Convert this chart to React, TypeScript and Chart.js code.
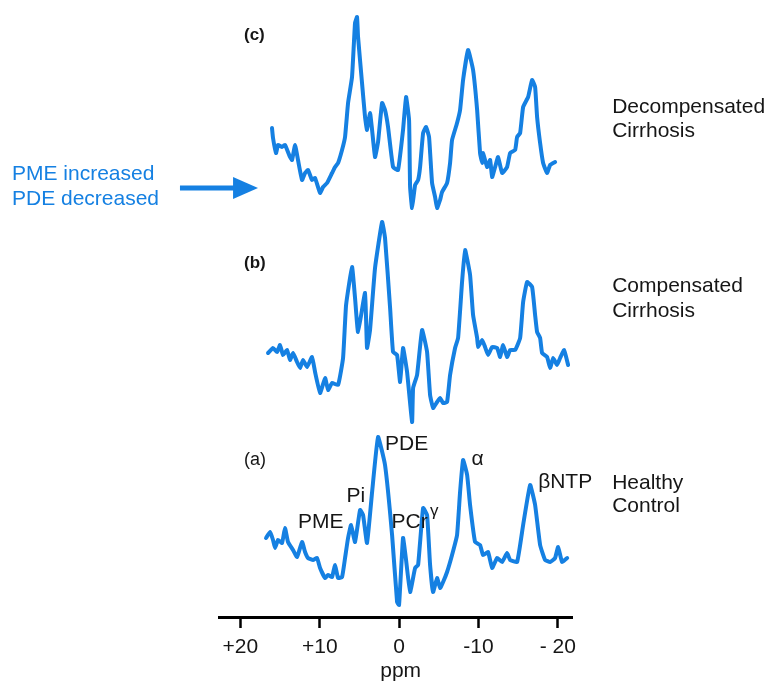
import React, { useEffect, useRef } from 'react';
import { Chart, registerables } from 'chart.js';

Chart.register(...registerables);

// x axis (chemical shift, ppm) — reversed, NMR style
const tickValues = [20, 10, 0, -10, -20];
const tickLabels = ['+20', '+10', '0', '-10', '- 20'];

// vertical stacking offsets of the spectra (a.u.)
const traceOffsets = [0, 20, 40];
const traceNames = ['Healthy Control', 'Compensated Cirrhosis', 'Decompensated Cirrhosis'];

// (a) Healthy control
const healthyPpm = [16.77, 16.27, 15.89, 15.64, 15.26, 14.75, 14.38, 14.0, 13.37, 12.86, 12.23, 11.85, 11.48, 10.84, 10.34, 9.96, 9.33, 8.95, 8.45, 8.07, 7.69, 7.19, 6.81, 6.43, 6.05, 5.55, 4.92, 4.54, 4.04, 3.4, 2.65, 1.77, 0.88, 0.25, 0.0, -0.5, -0.88, -1.39, -2.02, -2.4, -3.03, -3.53, -3.91, -4.29, -4.79, -5.17, -5.55, -6.05, -6.68, -7.31, -7.69, -8.07, -8.58, -8.95, -9.58, -10.21, -10.59, -11.22, -11.73, -12.36, -12.99, -13.62, -14.0, -14.88, -15.64, -16.52, -17.15, -17.78, -18.41, -19.04, -19.67, -20.05, -20.55, -21.19];
const healthyIntensity = [7.9, 8.5, 7.7, 6.9, 7.7, 7.4, 8.9, 7.5, 6.7, 6.0, 7.5, 6.5, 5.9, 5.7, 5.9, 4.9, 3.9, 4.2, 4.0, 5.2, 3.9, 4.0, 5.9, 7.9, 9.2, 7.5, 10.7, 10.2, 7.4, 12.5, 18.0, 15.2, 8.2, 1.5, 1.2, 7.9, 5.7, 2.5, 4.9, 5.2, 10.9, 10.2, 5.2, 2.5, 3.9, 2.9, 3.5, 4.5, 6.2, 8.2, 12.5, 15.7, 14.2, 11.2, 7.5, 7.2, 6.2, 6.5, 4.9, 5.9, 5.5, 6.4, 5.7, 5.5, 9.2, 13.2, 11.2, 7.2, 5.7, 5.5, 5.9, 7.0, 5.5, 5.9];

// (b) Compensated cirrhosis
const compensatedPpm = [16.52, 15.89, 15.38, 15.01, 14.63, 14.12, 13.75, 13.37, 12.86, 12.48, 12.11, 11.6, 10.97, 10.59, 9.96, 9.33, 8.95, 8.45, 7.69, 7.06, 6.68, 5.93, 5.55, 5.17, 4.29, 4.04, 3.66, 3.03, 2.14, 1.77, 1.13, 0.76, 0.25, -0.13, -0.5, -1.01, -1.64, -1.77, -2.27, -2.9, -3.53, -3.91, -4.29, -4.79, -5.17, -5.55, -6.05, -6.43, -7.06, -7.44, -7.94, -8.32, -8.95, -9.33, -9.84, -9.96, -10.47, -10.84, -11.22, -11.73, -12.36, -12.74, -13.11, -13.62, -14.0, -14.63, -15.26, -15.64, -16.14, -16.77, -17.15, -17.4, -17.78, -18.03, -18.66, -19.04, -19.42, -19.92, -20.3, -20.81, -21.31];
const compensatedIntensity = [6.4, 6.9, 6.5, 7.2, 6.2, 6.7, 5.7, 6.4, 5.5, 4.9, 5.7, 5.0, 6.0, 4.5, 2.4, 3.9, 2.7, 3.4, 3.2, 5.9, 11.2, 15.0, 11.9, 8.5, 12.4, 6.9, 8.7, 14.9, 19.5, 17.9, 10.9, 6.5, 6.2, 3.5, 6.9, 4.5, -0.5, 2.9, 4.2, 8.7, 6.5, 2.2, 0.9, 1.5, 1.9, 1.4, 1.5, 4.2, 6.9, 7.9, 13.5, 16.7, 14.2, 10.2, 7.9, 7.0, 7.7, 7.0, 6.2, 7.0, 6.9, 6.0, 7.2, 6.0, 6.7, 6.7, 7.9, 11.5, 13.5, 13.0, 10.2, 8.5, 7.9, 6.4, 6.0, 4.9, 5.9, 5.2, 5.9, 6.7, 5.2];

// (c) Decompensated cirrhosis
const decompensatedPpm = [16.02, 15.89, 15.51, 15.26, 14.75, 14.38, 13.75, 13.49, 13.11, 12.74, 12.23, 11.85, 11.48, 10.97, 10.59, 9.96, 9.58, 9.08, 8.45, 8.07, 7.69, 7.19, 6.81, 6.43, 5.93, 5.55, 5.3, 5.17, 4.67, 4.29, 4.04, 3.66, 3.4, 3.03, 2.65, 2.14, 1.77, 1.39, 0.76, 0.13, -0.5, -0.88, -1.26, -1.39, -1.64, -2.02, -2.4, -2.65, -3.03, -3.4, -3.78, -4.16, -4.54, -4.79, -5.17, -5.42, -6.05, -6.43, -6.68, -7.31, -7.69, -8.07, -8.7, -9.33, -9.84, -10.21, -10.47, -10.59, -11.1, -11.48, -11.73, -12.11, -12.48, -12.99, -13.62, -14.0, -14.63, -14.88, -15.26, -15.64, -16.27, -16.77, -17.15, -17.4, -17.78, -18.16, -18.66, -19.04, -19.67];
const decompensatedIntensity = [8.9, 7.9, 6.4, 7.2, 7.0, 7.2, 6.0, 5.7, 7.2, 5.7, 3.7, 4.4, 4.7, 3.7, 3.9, 2.4, 3.0, 3.4, 4.4, 5.0, 5.4, 6.7, 8.0, 11.4, 14.0, 19.4, 20.0, 18.0, 13.4, 10.0, 8.7, 10.4, 8.7, 6.0, 7.5, 11.4, 10.7, 9.0, 5.0, 4.7, 8.7, 12.0, 9.7, 3.0, 0.9, 3.2, 3.7, 5.0, 8.4, 9.0, 8.0, 3.4, 2.0, 0.9, 1.7, 2.5, 3.4, 5.4, 7.7, 9.4, 10.7, 13.7, 16.7, 14.7, 10.7, 6.4, 5.4, 6.4, 5.0, 5.7, 4.0, 5.0, 6.0, 4.4, 5.0, 6.4, 6.7, 8.0, 8.4, 11.0, 12.0, 13.7, 13.0, 10.0, 7.4, 5.4, 4.4, 5.2, 5.5];

const BLUE = '#1580e2';
const INK = '#161616';
const FONT = '"Liberation Sans", Arial, Helvetica, sans-serif';

function toPoints(ppm: number[], intensity: number[], offset: number) {
  const n = Math.min(ppm.length, intensity.length);
  const pts: { x: number; y: number }[] = [];
  for (let i = 0; i < n; i++) pts.push({ x: ppm[i], y: intensity[i] + offset });
  return pts;
}

const annotationPlugin = {
  id: 'nmrAnnotations',
  afterDraw(chart: any) {
    const { ctx, scales } = chart;
    const X = (v: number) => scales.x.getPixelForValue(v);
    const Y = (v: number) => scales.y.getPixelForValue(v);
    ctx.save();
    ctx.textAlign = 'left';
    ctx.textBaseline = 'alphabetic';

    const text = (t: string, ppm: number, val: number, size: number, color = INK, weight = 'normal') => {
      ctx.font = `${weight} ${size}px ${FONT}`;
      ctx.fillStyle = color;
      ctx.fillText(t, X(ppm), Y(val));
    };

    // panel letters
    text('(c)', 19.55, 57.7, 17, INK, 'bold');
    text('(b)', 19.55, 34.9, 17, INK, 'bold');
    text('(a)', 19.55, 15.2, 18);

    // peak assignments on the healthy spectrum
    text('PME', 12.74, 8.9, 21);
    text('Pi', 6.62, 11.5, 21);
    text('PDE', 1.77, 16.7, 21);
    text('PCr', 0.95, 8.9, 21);
    text('\u03B3', -3.91, 10.1, 17);
    text('\u03B1', -9.14, 15.2, 21);
    text('\u03B2NTP', -17.53, 12.9, 21);

    // group names on the right
    text('Decompensated', -26.86, 50.4, 21);
    text('Cirrhosis', -26.86, 48.0, 21);
    text('Compensated', -26.86, 32.5, 21);
    text('Cirrhosis', -26.86, 30.0, 21);
    text('Healthy', -26.86, 12.8, 21);
    text('Control', -26.86, 10.5, 21);

    // left note + arrow
    text('PME increased', 48.8, 43.7, 21, BLUE);
    text('PDE decreased', 48.8, 41.2, 21, BLUE);
    const ay = Y(42.9);
    ctx.strokeStyle = BLUE;
    ctx.lineWidth = 5;
    ctx.beginPath();
    ctx.moveTo(X(27.62), ay);
    ctx.lineTo(X(20.5), ay);
    ctx.stroke();
    ctx.fillStyle = BLUE;
    ctx.beginPath();
    ctx.moveTo(X(17.78), ay);
    ctx.lineTo(X(20.93), ay - 11);
    ctx.lineTo(X(20.93), ay + 11);
    ctx.closePath();
    ctx.fill();

    // axis title
    ctx.font = `normal 21px ${FONT}`;
    ctx.fillStyle = INK;
    ctx.textAlign = 'center';
    ctx.fillText('ppm', X(-0.2), chart.height - 5);
    ctx.restore();
  },
};

export default function App() {
  const ref = useRef<HTMLCanvasElement>(null);
  useEffect(() => {
    const spectra = [
      toPoints(healthyPpm, healthyIntensity, traceOffsets[0]),
      toPoints(compensatedPpm, compensatedIntensity, traceOffsets[1]),
      toPoints(decompensatedPpm, decompensatedIntensity, traceOffsets[2]),
    ];
    const chart = new Chart(ref.current as HTMLCanvasElement, {
      type: 'line',
      data: {
        datasets: spectra.map((pts, i) => ({
          label: traceNames[i],
          data: pts,
          borderColor: BLUE,
          borderWidth: 4,
          pointRadius: 0,
          tension: 0.12,
          fill: false,
          clip: false as any,
          borderJoinStyle: 'round' as const,
          borderCapStyle: 'round' as const,
        })),
      },
      options: {
        responsive: false,
        animation: false,
        devicePixelRatio: 1,
        layout: { padding: { left: 219, right: 197, top: 0, bottom: 15 } },
        plugins: { legend: { display: false }, tooltip: { enabled: false } },
        scales: {
          x: {
            type: 'linear',
            reverse: true,
            min: -21.8,
            max: 22.7,
            afterBuildTicks: (axis: any) => {
              axis.ticks = tickValues.map((v) => ({ value: v }));
            },
            ticks: {
              autoSkip: false,
              maxRotation: 0,
              padding: 9,
              color: INK,
              font: { size: 21, family: FONT, lineHeight: 1 },
              callback: (v: any) => {
                const i = tickValues.indexOf(Number(v));
                return i >= 0 ? tickLabels[i] : '';
              },
            },
            grid: {
              display: true,
              drawOnChartArea: false,
              drawTicks: true,
              tickLength: 11,
              tickWidth: 2.5,
              tickColor: '#000',
            },
            border: { display: true, color: '#000', width: 3 },
          },
          y: {
            type: 'linear',
            display: false,
            min: 0,
            max: 61.7,
          },
        },
      },
      plugins: [annotationPlugin],
    });
    return () => chart.destroy();
  }, []);
  return (
    <div style={{ position: 'absolute', left: 0, top: 0, width: 769, height: 682, background: '#fff' }}>
      <canvas ref={ref} width={769} height={682} style={{ display: 'block' }} />
    </div>
  );
}
